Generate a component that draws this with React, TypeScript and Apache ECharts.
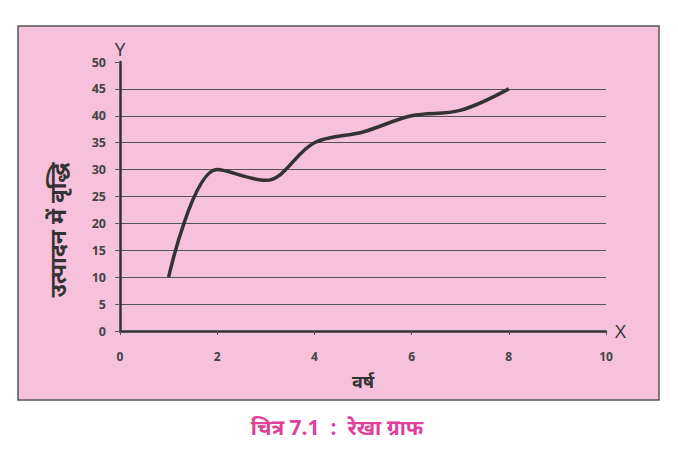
import React, { useEffect, useRef } from "react";
import * as echarts from "echarts";

const years = [1, 2, 3, 4, 5, 6, 7, 8];
const production = [10, 30, 28, 35, 37, 40, 41, 45];
const yTitle = "उत्पादन में वृद्धि";
const xTitle = "वर्ष";
const caption = "चित्र 7.1  :  रेखा ग्राफ";

export default function App() {
  const ref = useRef<HTMLDivElement>(null);
  useEffect(() => {
    if (!ref.current) return;
    const chart = echarts.init(ref.current, null, { renderer: "svg" });
    const font = "'Open Sans', 'Noto Sans', 'DejaVu Sans', sans-serif";
    chart.setOption({
      animation: false,
      backgroundColor: "#ffffff",
      textStyle: { fontFamily: font },
      graphic: [
        {
          type: "rect",
          z: -10,
          shape: { x: 18, y: 26, width: 641, height: 374 },
          style: { fill: "#f6c1da", stroke: "#555", lineWidth: 1.5 },
        },
        {
          type: "text",
          x: 57,
          y: 230,
          rotation: Math.PI / 2,
          style: {
            text: yTitle,
            fontSize: 23,
            fontWeight: "bold",
            fill: "#333",
            align: "center",
            verticalAlign: "middle",
            fontFamily: font,
          },
        },
        {
          type: "text",
          x: 363,
          y: 381,
          style: {
            text: xTitle,
            fontSize: 18,
            fontWeight: "bold",
            fill: "#333",
            align: "center",
            verticalAlign: "middle",
            fontFamily: font,
          },
        },
        {
          type: "text",
          x: 337,
          y: 427,
          style: {
            text: caption,
            fontSize: 21,
            fontWeight: "bold",
            fill: "#e0409a",
            align: "center",
            verticalAlign: "middle",
            fontFamily: font,
          },
        },
      ],
      grid: { left: 120, right: 72, top: 62, bottom: 125, containLabel: false },
      xAxis: {
        type: "value",
        min: 0,
        max: 10,
        interval: 2,
        name: "X",
        nameLocation: "end",
        nameGap: 9,
        nameTextStyle: { fontSize: 19, color: "#333", fontFamily: font },
        axisLine: { show: true, lineStyle: { color: "#333", width: 2.5 } },
        axisTick: { show: true, length: 4, lineStyle: { color: "#555" } },
        axisLabel: { color: "#444", fontSize: 12, fontWeight: "bold", margin: 19 },
        splitLine: { show: false },
      },
      yAxis: {
        type: "value",
        min: 0,
        max: 50,
        interval: 5,
        name: "Y",
        nameLocation: "end",
        nameGap: 4,
        nameTextStyle: { fontSize: 19, color: "#333", fontFamily: font, align: "center" },
        axisLine: { show: true, lineStyle: { color: "#333", width: 2.5 } },
        axisTick: { show: true, length: 5, lineStyle: { color: "#555" } },
        axisLabel: { color: "#444", fontSize: 12.5, fontWeight: "bold", margin: 14 },
        splitLine: { show: true, showMaxLine: false, lineStyle: { color: "#555", width: 1 } },
      },
      series: [
        {
          type: "line",
          data: years.map((y, i) => [y, production[i]]),
          smooth: 0.35,
          showSymbol: false,
          lineStyle: { color: "#333", width: 3.5 },
        },
      ],
    });
    return () => chart.dispose();
  }, []);
  return (
    <div
      ref={ref}
      style={{ position: "fixed", left: 0, top: 0, width: 678, height: 456 }}
    />
  );
}
